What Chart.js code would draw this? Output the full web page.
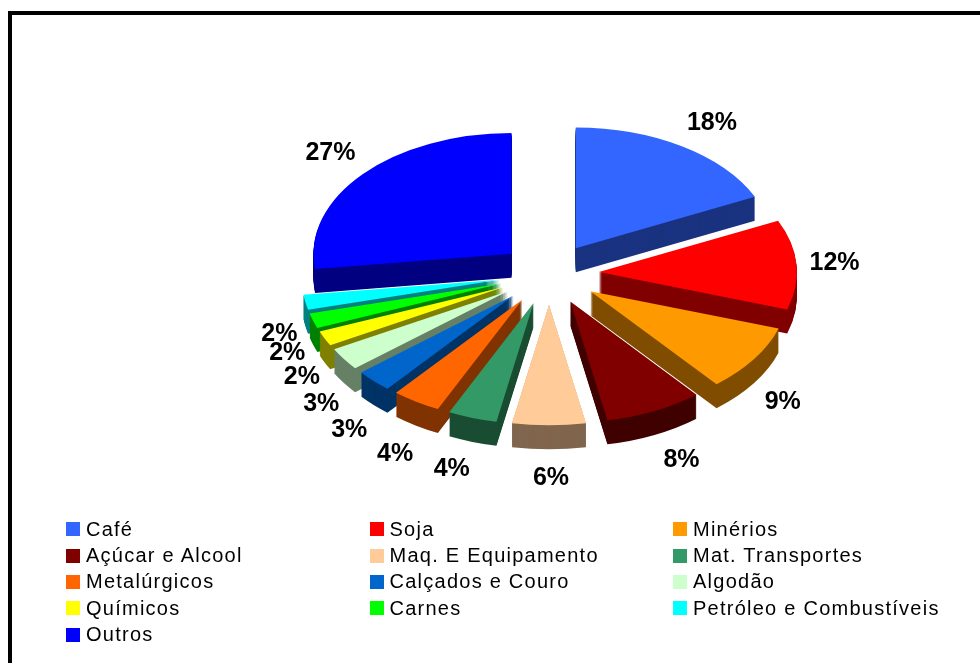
<!DOCTYPE html>
<html lang="pt">
<head>
<meta charset="utf-8">
<title>Exportações</title>
<script src="https://cdn.jsdelivr.net/npm/chart.js@4/dist/chart.umd.min.js"></script>
<style>
  html, body { margin: 0; padding: 0; background: #fff; overflow: hidden; }
  #page { position: relative; width: 980px; height: 663px; overflow: hidden; }
  #frame { position: absolute; left: 8px; top: 11px; right: 0; bottom: 0; border-top: 4px solid #000; border-left: 4px solid #000; }
  #pieCanvas { position: absolute; left: 0; top: 0; }
  #legend { position: absolute; left: 66px; top: 516px; display: grid; grid-template-columns: repeat(3, 303.5px); grid-auto-rows: 26.4px; font: 20px "Liberation Sans", Arial, sans-serif; letter-spacing: 1.25px; color: #000; }
  #legend div { display: flex; align-items: center; white-space: nowrap; }
  #legend i { width: 14px; height: 14px; margin-right: 6px; flex: none; }
</style>
</head>
<body>
<div id="page">
  <div id="frame"></div>
  <canvas id="pieCanvas" width="980" height="663"></canvas>
  <div id="legend"></div>
</div>
<script>
// Export share per product group
const categories = ['Café', 'Soja', 'Minérios', 'Açúcar e Alcool', 'Maq. E Equipamento', 'Mat. Transportes',
    'Metalúrgicos', 'Calçados e Couro', 'Algodão', 'Químicos', 'Carnes', 'Petróleo e Combustíveis', 'Outros'];
const shares = [18, 12, 9, 8, 6, 4, 4, 3, 3, 2, 2, 2, 27];
const colors = ['#3366FF', '#FF0000', '#FF9900', '#800000', '#FFCC99', '#339966',
    '#FF6600', '#0066CC', '#CCFFCC', '#FFFF00', '#00FF00', '#00FFFF', '#0000FF'];

// Pixel nudge of each percent label away from the middle of its slice rim
const labelNudgeX = [29, 36, 27, 26, 2, -20, -20, -23, -21, -21, -24, -24, -31];
const labelNudgeY = [-24, -1, 44, 50, 54, 52, 53, 50, 46, 39, 33, 32, -22];

const squash = 0.61;    // vertical tilt of the pie
const depth = 24;       // height of the side walls
const explode = 50;     // how far every slice is pulled out
const pieRadius = 198;
const labelRim = 250;

function darken(hex) {
    const n = parseInt(hex.slice(1), 16);
    const half = (v) => Math.round(v / 2);
    return `rgb(${half(n >> 16)}, ${half((n >> 8) & 255)}, ${half(n & 255)})`;
}

// Draws the arcs back to front as an extruded, tilted pie
const tiltedPie = {
    id: 'tiltedPie',
    beforeDatasetDraw(chart, args) {
        const ctx = chart.ctx;
        const arcs = args.meta.data;

        // slices nearest the top of the picture go first
        const order = arcs.map((arc, i) => i).sort((a, b) => {
            const mid = (arc) => (arc.startAngle + arc.endAngle) / 2;
            return Math.sin(mid(arcs[a])) - Math.sin(mid(arcs[b]));
        });

        order.forEach((i) => {
            const arc = arcs[i];
            const mid = (arc.startAngle + arc.endAngle) / 2;
            const baseOptions = arc.options;

            const place = (drop) => {
                ctx.save();
                ctx.translate(arc.x, arc.y + drop);
                ctx.scale(1, squash);
                ctx.translate(-arc.x, -arc.y);
                ctx.translate(Math.cos(mid) * explode, Math.sin(mid) * explode);
                arc.draw(ctx);
                ctx.restore();
            };

            arc.options = Object.assign(Object.create(baseOptions), { backgroundColor: darken(colors[i]) });
            for (let drop = depth; drop > 0; drop--) {
                place(drop);
            }
            arc.options = baseOptions;
            place(0);
        });

        return false;
    },
    afterDatasetsDraw(chart) {
        const ctx = chart.ctx;
        const arcs = chart.getDatasetMeta(0).data;
        ctx.save();
        ctx.font = 'bold 25px "Liberation Sans", Arial, sans-serif';
        ctx.fillStyle = '#000';
        ctx.textAlign = 'center';
        ctx.textBaseline = 'middle';
        arcs.forEach((arc, i) => {
            const mid = (arc.startAngle + arc.endAngle) / 2;
            const x = arc.x + Math.cos(mid) * labelRim + labelNudgeX[i];
            const y = arc.y + Math.sin(mid) * labelRim * 0.6 + labelNudgeY[i];
            ctx.fillText(shares[i] + '%', x, y);
        });
        ctx.restore();
    }
};

new Chart(document.getElementById('pieCanvas'), {
    type: 'pie',
    data: {
        labels: categories,
        datasets: [{
            data: shares,
            backgroundColor: colors,
            borderWidth: 0
        }]
    },
    options: {
        responsive: false,
        animation: false,
        radius: pieRadius,
        layout: { padding: { left: 118, right: 0, top: 0, bottom: 115 } },
        plugins: { legend: { display: false }, tooltip: { enabled: false } }
    },
    plugins: [tiltedPie]
});

// Three column legend under the pie
const legendEl = document.getElementById('legend');
categories.forEach((name, i) => {
    const row = document.createElement('div');
    const box = document.createElement('i');
    box.style.background = colors[i];
    row.appendChild(box);
    row.appendChild(document.createTextNode(name));
    legendEl.appendChild(row);
});
</script>
</body>
</html>
